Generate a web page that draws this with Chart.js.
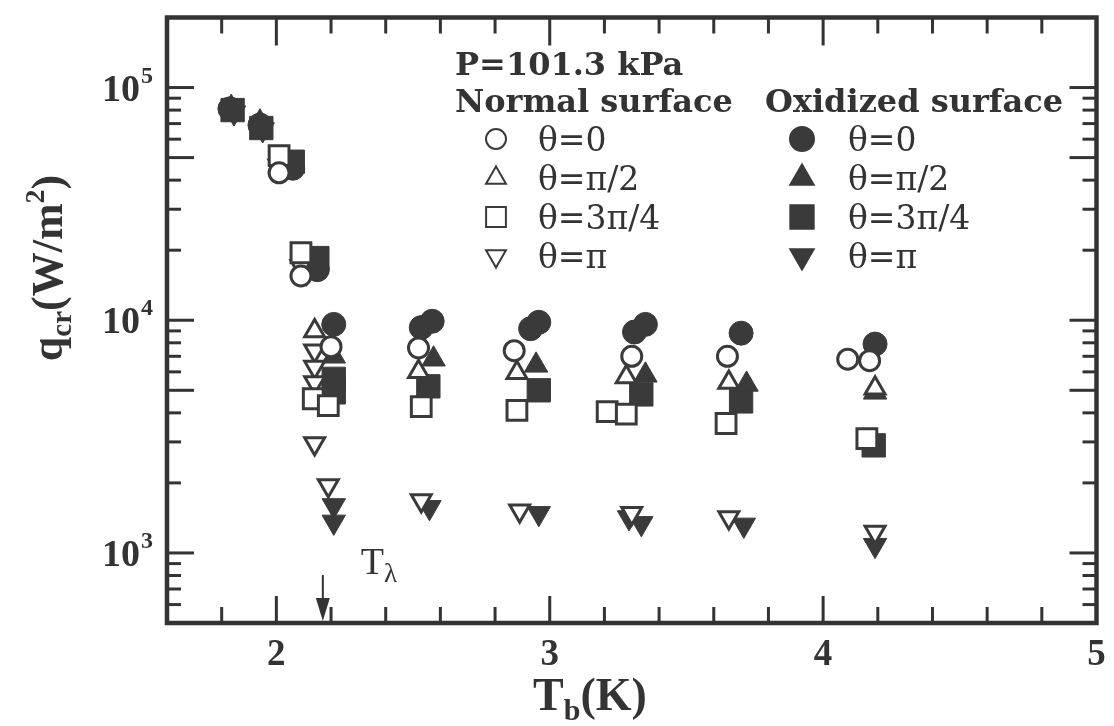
<!DOCTYPE html>
<html>
<head>
<meta charset="utf-8">
<script src="https://cdn.jsdelivr.net/npm/chart.js@4.4.0/dist/chart.umd.min.js"></script>
<style>
  html, body { margin: 0; padding: 0; background: #fff; }
</style>
</head>
<body>
<canvas id="qcrChart" width="1114" height="726"></canvas>
<script>
// axes
const xMin = 1.6, xMax = 5;
const yMin = 500, yMax = 2e5;
const xMajorTicks = [2, 3, 4, 5];
const xTickLabels = ['2', '3', '4', '5'];
const xMinorTicks = [1.8, 2.2, 2.4, 2.6, 2.8, 3.2, 3.4, 3.6, 3.8, 4.2, 4.4, 4.6, 4.8];
const yMajorTicks = [1e3, 1e4, 1e5];
const yTickExponents = ['3', '4', '5'];
const yMidTicks = [5e3, 5e4];
const yMinorTicks = [600, 700, 800, 900, 2e3, 3e3, 4e3, 6e3, 7e3, 8e3, 9e3,
                     2e4, 3e4, 4e4, 6e4, 7e4, 8e4, 9e4];
const lambdaTemp = 2.17;

// Normal surface  [Tb (K), qcr (W/m2)]
const normalTheta0 = [[2.01, 4.3e4], [2.09, 1.55e4], [2.20, 7.7e3], [2.52, 7.6e3], [2.87, 7.4e3],
                      [3.30, 7.0e3], [3.65, 7.0e3], [4.09, 6.8e3], [4.17, 6.7e3]];
const normalThetaHalfPi = [[2.14, 9.0e3], [2.52, 6.0e3], [2.88, 5.95e3], [3.28, 5.7e3],
                           [3.655, 5.4e3], [4.19, 5.1e3]];
const normalTheta3QuarterPi = [[2.01, 5.1e4], [2.09, 1.95e4], [2.135, 4.6e3], [2.19, 4.3e3], [2.53, 4.25e3],
                               [2.88, 4.1e3], [3.21, 4.05e3], [3.28, 3.95e3], [3.645, 3.6e3], [4.16, 3.1e3]];
const normalThetaPi = [[2.01, 4.6e4], [2.09, 1.7e4], [2.14, 7.4e3], [2.14, 6.3e3], [2.14, 5.4e3],
                       [2.14, 2.95e3], [2.19, 1.95e3], [2.53, 1.68e3], [2.89, 1.52e3], [3.30, 1.48e3],
                       [3.655, 1.42e3], [4.19, 1.23e3]];

// Oxidized surface
const oxTheta0 = [[1.83, 8.1e4], [1.94, 6.9e4], [2.06, 4.5e4], [2.15, 1.65e4], [2.21, 9.6e3],
                  [2.53, 9.3e3], [2.57, 9.9e3], [2.93, 9.2e3], [2.96, 9.8e3], [3.31, 8.9e3],
                  [3.35, 9.6e3], [3.70, 8.8e3], [4.19, 7.9e3]];
const oxThetaHalfPi = [[1.835, 8.2e4], [1.94, 7.1e4], [2.21, 7.0e3], [2.575, 6.8e3], [2.95, 6.4e3],
                       [3.35, 5.8e3], [3.72, 5.3e3], [4.19, 4.9e3]];
const oxTheta3QuarterPi = [[1.84, 8.0e4], [1.945, 6.7e4], [2.06, 4.8e4], [2.15, 1.85e4], [2.21, 5.6e3],
                           [2.21, 4.9e3], [2.556, 5.2e3], [2.96, 5.0e3], [3.335, 4.8e3], [3.70, 4.48e3],
                           [4.185, 2.9e3]];
const oxThetaPi = [[1.845, 7.8e4], [1.95, 6.6e4], [2.02, 4.4e4], [2.11, 1.6e4], [2.21, 1.6e3],
                   [2.21, 1.36e3], [2.56, 1.57e3], [2.96, 1.48e3], [3.29, 1.42e3], [3.335, 1.34e3],
                   [3.71, 1.32e3], [4.19, 1.08e3]];

const ink = '#333';
const markerInk = '#3a3a3a';
const serifTimes = '"Liberation Serif", "Times New Roman", Times, serif';
const serifBook = '"DejaVu Serif", serif';

// one entry per series; normal ones first so they are drawn on top
const series = [
  { label: 'θ=0',    col: 0, data: normalTheta0,          style: 'circle',   rot: 0,   r: 10,  open: true },
  { label: 'θ=π/2',  col: 0, data: normalThetaHalfPi,     style: 'triangle', rot: 0,   r: 11.5, open: true },
  { label: 'θ=3π/4', col: 0, data: normalTheta3QuarterPi, style: 'rect',     rot: 0,   r: 14,  open: true },
  { label: 'θ=π',    col: 0, data: normalThetaPi,         style: 'triangle', rot: 180, r: 11.5, open: true },
  { label: 'θ=0',    col: 1, data: oxTheta0,              style: 'circle',   rot: 0,   r: 12,  open: false },
  { label: 'θ=π/2',  col: 1, data: oxThetaHalfPi,         style: 'triangle', rot: 0,   r: 13.5, open: false },
  { label: 'θ=3π/4', col: 1, data: oxTheta3QuarterPi,     style: 'rect',     rot: 0,   r: 16.5, open: false },
  { label: 'θ=π',    col: 1, data: oxThetaPi,             style: 'triangle', rot: 180, r: 13.5, open: false }
];

const datasets = series.map(s => ({
  label: s.label,
  data: s.data.map(p => ({ x: p[0], y: p[1] })),
  pointStyle: s.style,
  rotation: s.rot,
  pointRadius: s.r,
  pointHoverRadius: s.r,
  pointBackgroundColor: s.open ? '#fff' : markerInk,
  pointBorderColor: markerInk,
  pointBorderWidth: s.open ? 3 : 1,
  showLine: false
}));

function richText(ctx, parts, x, y, align) {
  // parts: {t, font, dy}
  let total = 0;
  parts.forEach(p => { ctx.font = p.font; p.w = ctx.measureText(p.t).width; total += p.w; });
  let cx = align === 'center' ? x - total / 2 : x;
  ctx.textAlign = 'left';
  parts.forEach(p => {
    ctx.font = p.font;
    ctx.fillText(p.t, cx, y + (p.dy || 0));
    cx += p.w;
  });
}

const framePlugin = {
  id: 'framePlugin',
  afterDatasetsDraw(chart) {
    const ctx = chart.ctx;
    const area = chart.chartArea;
    const xs = chart.scales.x, ys = chart.scales.y;
    ctx.save();
    ctx.strokeStyle = ink;
    ctx.fillStyle = ink;

    // tick marks, pointing inwards on all four sides
    ctx.lineWidth = 3;
    const tick = (x1, y1, x2, y2) => { ctx.beginPath(); ctx.moveTo(x1, y1); ctx.lineTo(x2, y2); ctx.stroke(); };
    xMajorTicks.forEach(v => {
      const px = xs.getPixelForValue(v);
      tick(px, area.bottom, px, area.bottom - 27);
      tick(px, area.top, px, area.top + 28);
    });
    xMinorTicks.forEach(v => {
      const px = xs.getPixelForValue(v);
      tick(px, area.bottom, px, area.bottom - 16);
      tick(px, area.top, px, area.top + 16);
    });
    yMajorTicks.concat(yMidTicks).forEach(v => {
      const py = ys.getPixelForValue(v);
      tick(area.left, py, area.left + 27, py);
      tick(area.right, py, area.right - 27, py);
    });
    yMinorTicks.forEach(v => {
      const py = ys.getPixelForValue(v);
      tick(area.left, py, area.left + 14, py);
      tick(area.right, py, area.right - 14, py);
    });

    // frame
    ctx.lineWidth = 4.5;
    ctx.strokeRect(area.left, area.top, area.right - area.left, area.bottom - area.top);

    // x tick labels
    ctx.font = 'bold 37px ' + serifTimes;
    ctx.textAlign = 'center';
    ctx.textBaseline = 'alphabetic';
    xMajorTicks.forEach((v, i) => {
      ctx.fillText(xTickLabels[i], xs.getPixelForValue(v), area.bottom + 42);
    });

    // y tick labels 10^n
    yMajorTicks.forEach((v, i) => {
      const py = ys.getPixelForValue(v);
      ctx.font = 'bold 38px ' + serifTimes;
      ctx.textAlign = 'right';
      ctx.fillText('10', area.left - 27, py + 13);
      ctx.font = 'bold 24px ' + serifTimes;
      ctx.textAlign = 'left';
      ctx.fillText(yTickExponents[i], area.left - 26, py - 5);
    });

    // x title
    richText(ctx, [
      { t: 'T', font: 'bold 46px ' + serifTimes },
      { t: 'b', font: 'bold 30px ' + serifTimes, dy: 10 },
      { t: '(K)', font: 'bold 46px ' + serifTimes }
    ], 590, 710, 'center');

    // y title
    ctx.save();
    ctx.translate(62, 268);
    ctx.rotate(-Math.PI / 2);
    richText(ctx, [
      { t: 'q', font: 'bold 44px ' + serifTimes },
      { t: 'cr', font: 'bold 29px ' + serifTimes, dy: 9 },
      { t: '(W/m', font: 'bold 44px ' + serifTimes },
      { t: '2', font: 'bold 28px ' + serifTimes, dy: -18 },
      { t: ')', font: 'bold 44px ' + serifTimes }
    ], 0, 0, 'center');
    ctx.restore();

    // T lambda marker
    const lx = xs.getPixelForValue(lambdaTemp);
    ctx.lineWidth = 2;
    tick(lx, area.bottom - 48, lx, area.bottom - 20);
    ctx.beginPath();
    ctx.moveTo(lx - 7, area.bottom - 25);
    ctx.lineTo(lx + 7, area.bottom - 25);
    ctx.lineTo(lx, area.bottom - 2);
    ctx.closePath();
    ctx.fill();
    richText(ctx, [
      { t: 'T', font: '38px ' + serifTimes },
      { t: 'λ', font: '27px ' + serifTimes, dy: 8 }
    ], lx + 38, 574, 'left');

    // legend block
    ctx.font = 'bold 32px ' + serifBook;
    ctx.textAlign = 'left';
    ctx.fillText('P=101.3 kPa', 455, 75);
    ctx.fillText('Normal surface', 455, 112);
    ctx.fillText('Oxidized surface', 765, 112);
    const colSym = [496, 802], colText = [538, 848];
    const rowY = [139, 178, 217, 256];
    let rowCount = [0, 0];
    series.forEach((s, i) => {
      const ry = rowY[rowCount[s.col]++];
      ctx.save();
      ctx.fillStyle = s.open ? '#fff' : markerInk;
      ctx.strokeStyle = markerInk;
      Chart.helpers.drawPoint(ctx, {
        pointStyle: s.style, rotation: s.rot,
        radius: s.r, borderWidth: s.open ? 2.5 : 1
      }, colSym[s.col], ry);
      ctx.restore();
      ctx.font = '33px ' + serifBook;
      ctx.fillText(s.label, colText[s.col], ry + 12);
    });

    ctx.restore();
  }
};

new Chart(document.getElementById('qcrChart').getContext('2d'), {
  type: 'scatter',
  data: { datasets: datasets },
  options: {
    responsive: false,
    animation: false,
    devicePixelRatio: 1,
    layout: { padding: { left: 167, right: 6, top: 11, bottom: 103 } },
    scales: {
      x: { type: 'linear', min: xMin, max: xMax, display: false },
      y: { type: 'logarithmic', min: yMin, max: yMax, display: false }
    },
    plugins: {
      legend: { display: false },
      tooltip: { enabled: false }
    }
  },
  plugins: [framePlugin]
});
</script>
</body>
</html>
